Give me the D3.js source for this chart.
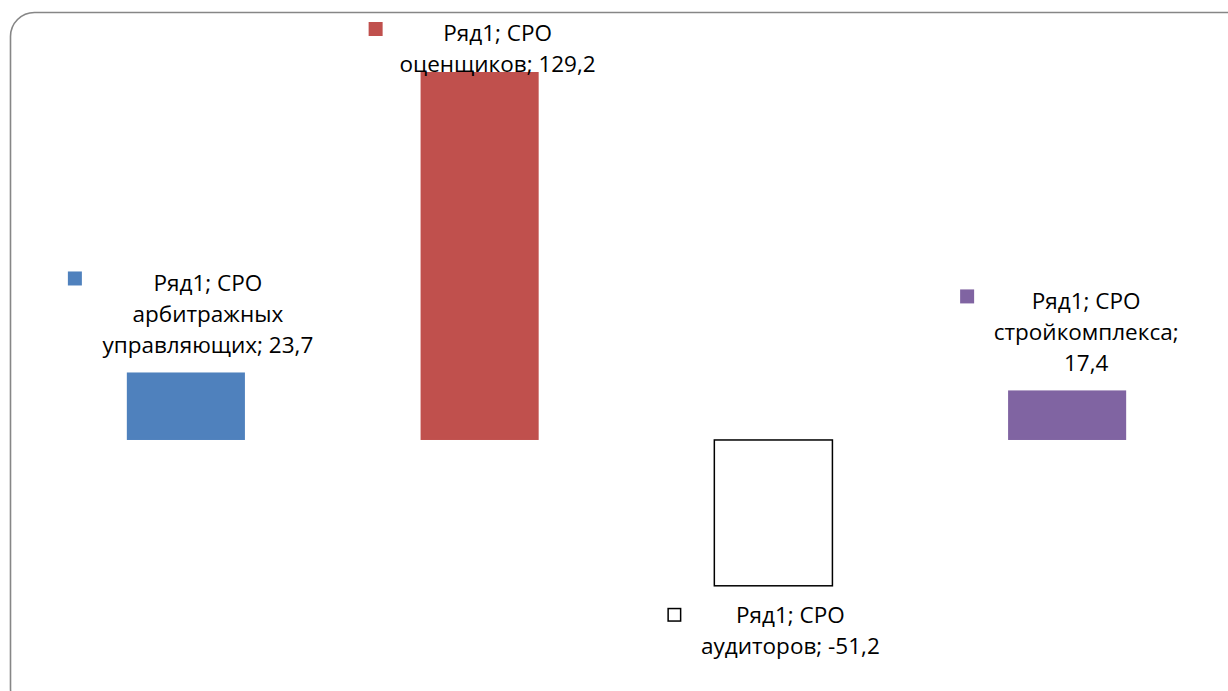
<!DOCTYPE html>
<html>
<head>
<meta charset="utf-8">
<script src="https://cdn.jsdelivr.net/npm/d3@7"></script>
<style>
  html, body { margin: 0; padding: 0; background: #fff; }
  svg { display: block; }
  text { font-family: "Open Sans", Lato, sans-serif; }
</style>
</head>
<body>
<svg id="chart" width="1228" height="691"></svg>
<script>
const seriesName = "Ряд1";
const categories = ["СРО арбитражных управляющих", "СРО оценщиков", "СРО аудиторов", "СРО стройкомплекса"];
const values = [23.7, 129.2, -51.2, 17.4];
const colors = ["#4F81BD", "#C0504D", "#FFFFFF", "#8064A2"];
const labelLines = [
  ["Ряд1; СРО", "арбитражных", "управляющих; 23,7"],
  ["Ряд1; СРО", "оценщиков; 129,2"],
  ["Ряд1; СРО", "аудиторов; -51,2"],
  ["Ряд1; СРО", "стройкомплекса;", "17,4"]
];

const svg = d3.select("#chart");

// frame
svg.append("rect")
  .attr("x", 10.5).attr("y", 12.5)
  .attr("width", 1240).attr("height", 700)
  .attr("rx", 24).attr("ry", 24)
  .attr("fill", "#fff")
  .attr("stroke", "#868686")
  .attr("stroke-width", 1.6);

const x = d3.scaleBand()
  .domain(categories)
  .range([39, 1214])
  .paddingInner(0.598)
  .paddingOuter(0.299);

const y = d3.scaleLinear()
  .domain([-51.2, 129.2])
  .range([585.8, 72]);

const g = svg.append("g");

g.selectAll("rect.bar")
  .data(values)
  .join("rect")
  .attr("class", "bar")
  .attr("x", (d, i) => x(categories[i]))
  .attr("width", x.bandwidth())
  .attr("y", d => Math.min(y(d), y(0)))
  .attr("height", d => Math.abs(y(d) - y(0)))
  .attr("fill", (d, i) => colors[i])
  .attr("stroke", (d, i) => d < 0 ? "#000" : "none")
  .attr("stroke-width", 1.5);

const lineH = 31;
const textOffsets = [22, 18, 17, 19];
const markerOffsets = [-118, -111, -106, -107];

labelLines.forEach((lines, i) => {
  const v = values[i];
  const cx = x(categories[i]) + x.bandwidth() / 2;
  let firstCenter;
  if (v >= 0) {
    const lastCenter = y(v) - 28;
    firstCenter = lastCenter - (lines.length - 1) * lineH;
    if (firstCenter < 33) firstCenter = 33;
  } else {
    firstCenter = y(v) + 29;
  }
  const tx = cx + textOffsets[i];
  const lg = svg.append("g");
  lines.forEach((ln, k) => {
    lg.append("text")
      .attr("x", tx)
      .attr("y", firstCenter + k * lineH)
      .attr("dy", "0.36em")
      .attr("text-anchor", "middle")
      .attr("font-size", 22.5)
      .attr("fill", "#000")
      .text(ln);
  });
  const mx = cx + markerOffsets[i];
  lg.append("rect")
    .attr("x", v < 0 ? mx + 0.75 : mx)
    .attr("y", v < 0 ? firstCenter - 7 + 0.75 : firstCenter - 11)
    .attr("width", v < 0 ? 12.5 : 14)
    .attr("height", v < 0 ? 12.5 : 14)
    .attr("fill", colors[i])
    .attr("stroke", v < 0 ? "#000" : "none")
    .attr("stroke-width", 1.5);
});
</script>
</body>
</html>
